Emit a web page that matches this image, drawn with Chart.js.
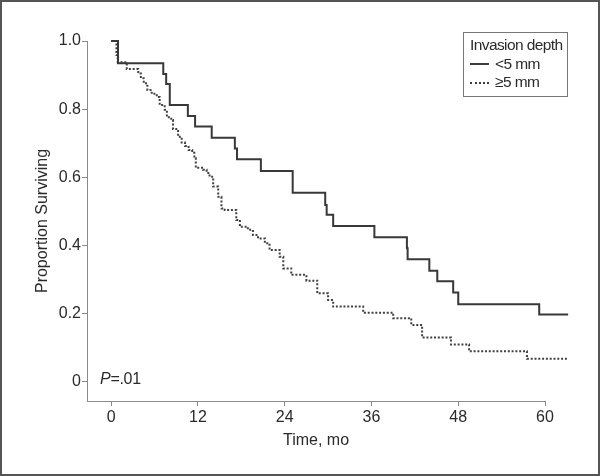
<!DOCTYPE html>
<html>
<head>
<meta charset="utf-8">
<script src="https://cdn.jsdelivr.net/npm/chart.js@4/dist/chart.umd.min.js"></script>
<style>
  html, body { margin: 0; padding: 0; background: #fff; }
  #wrap { position: relative; width: 600px; height: 476px; }
  #frame { position: absolute; left: 0; top: 0; width: 600px; height: 476px; box-sizing: border-box; border: 2px solid #555; pointer-events: none; }
  #survChart { position: absolute; left: 0; top: 0; }
  .note { position: absolute; font-family: "Liberation Sans", Arial, sans-serif; font-size: 16px; color: #2a2a2a; white-space: nowrap; }
  #legend { left: 463px; top: 32px; width: 105px; height: 65px; box-sizing: border-box; border: 1px solid #777; padding: 3px 0 0 6px; line-height: 18.5px; font-size: 15.5px; letter-spacing: -0.6px; }
  #legend .sample { display: inline-block; width: 19px; vertical-align: middle; margin-right: 6px; border-top-width: 2px; border-top-color: #3c3c3c; }
  #pval { left: 100px; top: 370px; letter-spacing: -0.3px; }
</style>
</head>
<body>
<div id="wrap">
  <canvas id="survChart" width="600" height="476"></canvas>
  <div id="legend" class="note"></div>
  <div id="pval" class="note"><i>P</i>=.01</div>
  <div id="frame"></div>
</div>
<script>
// Kaplan-Meier steps (months, proportion surviving)
const shortMonths = [0, 0.94, 7.2, 7.6, 8.1, 10.6, 11.6, 13.9, 17.1, 17.4, 20.7, 25.1, 29.6, 29.8, 30.7, 36.4, 40.9, 41.0, 44.0, 45.1, 47.3, 48.0, 59.2, 63.2];
const shortSurv = [1.0, 0.935, 0.903, 0.874, 0.812, 0.78, 0.749, 0.716, 0.685, 0.653, 0.619, 0.555, 0.519, 0.49, 0.457, 0.424, 0.392, 0.36, 0.326, 0.295, 0.262, 0.228, 0.198, 0.198];

const deepMonths = [0, 0.72, 0.9, 2.15, 3.74, 4.1, 4.5, 5.0, 5.6, 6.3, 6.7, 7.4, 7.7, 8.3, 8.55, 9.25, 9.75, 10.2, 10.7, 11.2, 11.5, 11.7, 12.7, 13.2, 13.6, 14.1, 14.8, 15.25, 15.7, 17.3, 17.8, 18.9, 19.6, 20.3, 21.25, 21.9, 23.3, 23.8, 24.9, 27.0, 28.5, 30.0, 30.7, 34.85, 39.0, 41.5, 43.0, 47.0, 49.5, 57.5, 63.2];
const deepSurv = [1.0, 0.959, 0.938, 0.918, 0.905, 0.891, 0.876, 0.856, 0.845, 0.836, 0.812, 0.798, 0.776, 0.768, 0.742, 0.719, 0.702, 0.692, 0.68, 0.672, 0.656, 0.628, 0.622, 0.613, 0.602, 0.573, 0.543, 0.509, 0.504, 0.475, 0.455, 0.446, 0.431, 0.421, 0.407, 0.387, 0.367, 0.333, 0.314, 0.297, 0.26, 0.24, 0.221, 0.203, 0.187, 0.167, 0.13, 0.11, 0.09, 0.068, 0.068];

const seriesLabels = ["<5 mm", "\u22655 mm"];
const legendTitle = "Invasion depth";
const xTicks = [0, 12, 24, 36, 48, 60];
const yTicks = [0, 0.2, 0.4, 0.6, 0.8, 1.0];

const fontFamily = '"Liberation Sans", Arial, sans-serif';
const axisColor = '#8a8a8a';
const textColor = '#2a2a2a';

function toPoints(xs, ys) {
    return xs.map((x, i) => ({ x: x, y: ys[i] }));
}

const data = {
    datasets: [
        {
            label: seriesLabels[0],
            data: toPoints(shortMonths, shortSurv),
            borderColor: '#383838',
            borderWidth: 2,
            stepped: true,
            pointRadius: 0,
            clip: false
        },
        {
            label: seriesLabels[1],
            data: toPoints(deepMonths, deepSurv),
            borderColor: '#404040',
            borderWidth: 2,
            borderDash: [2, 1.8],
            stepped: true,
            pointRadius: 0,
            clip: false
        }
    ]
};

const config = {
    type: 'line',
    data: data,
    options: {
        responsive: false,
        animation: false,
        layout: { padding: { left: 29, top: 41, right: 55, bottom: 22 } },
        plugins: {
            legend: { display: false },
            tooltip: { enabled: false }
        },
        scales: {
            x: {
                type: 'linear',
                min: -3.35,
                max: 60,
                afterBuildTicks: s => { s.ticks = xTicks.map(v => ({ value: v })); },
                afterFit: s => { s.height = 53; },
                ticks: { color: textColor, font: { family: fontFamily, size: 16 }, padding: 2, maxRotation: 0, includeBounds: false },
                grid: { display: true, drawOnChartArea: false, drawTicks: true, tickLength: 5, color: axisColor },
                border: { display: true, color: axisColor },
                title: { display: true, text: 'Time, mo', color: textColor, font: { family: fontFamily, size: 16 } }
            },
            y: {
                min: -0.056,
                max: 1.0,
                afterBuildTicks: s => { s.ticks = yTicks.map(v => ({ value: v })); },
                afterFit: s => { s.width = 58; },
                ticks: {
                    color: textColor,
                    font: { family: fontFamily, size: 16 },
                    padding: 1,
                    includeBounds: false,
                    callback: v => v === 0 ? '0' : v.toFixed(1)
                },
                grid: { display: true, drawOnChartArea: false, drawTicks: true, tickLength: 5, color: axisColor },
                border: { display: true, color: axisColor },
                title: { display: true, text: 'Proportion Surviving', color: textColor, font: { family: fontFamily, size: 16 } }
            }
        }
    }
};

const survChart = new Chart(document.getElementById('survChart').getContext('2d'), config);

// legend box, built from the dataset labels
const legendBox = document.getElementById('legend');
let html = '<div>' + legendTitle + '</div>';
data.datasets.forEach(ds => {
    const style = ds.borderDash ? 'dotted' : 'solid';
    html += '<div><span class="sample" style="border-top-style:' + style + '"></span>' +
        ds.label.replace('<', '&lt;') + '</div>';
});
legendBox.innerHTML = html;
</script>
</body>
</html>
